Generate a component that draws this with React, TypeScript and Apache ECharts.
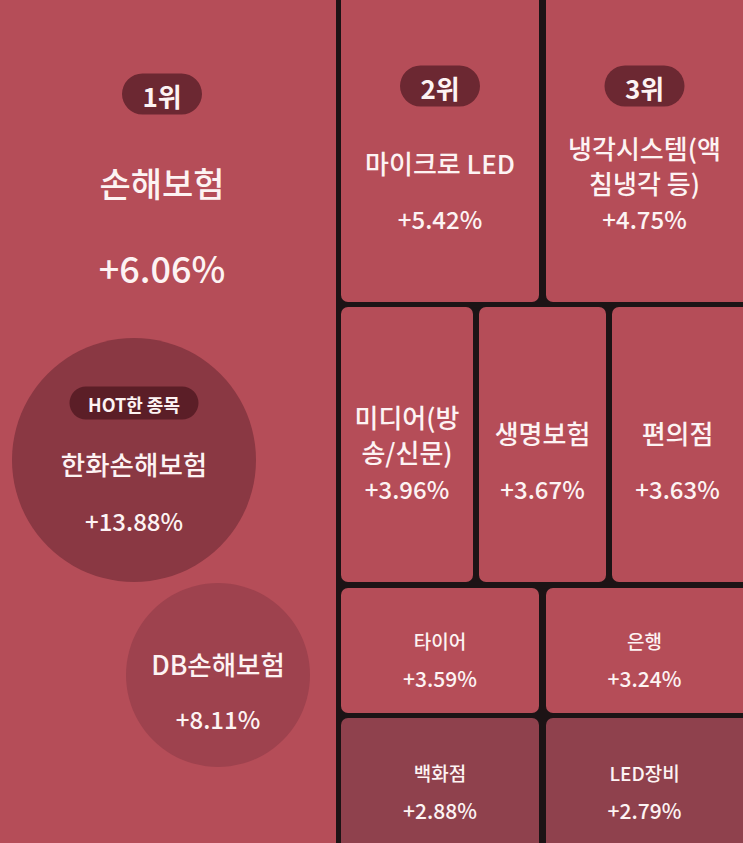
import React, { useEffect, useRef } from "react";
import * as echarts from "echarts";

// ---- data ----
const sectorNames = [
  "손해보험",
  "마이크로 LED",
  "냉각시스템(액\n침냉각 등)",
  "미디어(방\n송/신문)",
  "생명보험",
  "편의점",
  "타이어",
  "은행",
  "백화점",
  "LED장비",
];
const sectorChanges = [6.06, 5.42, 4.75, 3.96, 3.67, 3.63, 3.59, 3.24, 2.88, 2.79];
const rankLabels = ["1위", "2위", "3위"];
const hotStockNames = ["한화손해보험", "DB손해보험"];
const hotStockChanges = [13.88, 8.11];
const hotBadgeText = "HOT한 종목";

// ---- layout (pixel frame of the page) ----
const VIEW_W = 743;
const VIEW_H = 843;
// [x0, y0, x1, y1, badgeY, nameY, valueY, nameSize, valueSize, lineHeight]
const tileLayout = [
  [-12, -12, 336, 860, 94, 182, 267, 34, 36, 40],
  [341, -12, 539, 302, 86, 162, 218, 26, 24, 35],
  [546, -12, 752, 302, 86, 165, 218, 26, 24, 35],
  [341, 307, 473, 582, 0, 434, 488, 26, 24, 35],
  [479, 307, 606, 582, 0, 432, 488, 26, 24, 35],
  [612, 307, 752, 582, 0, 432, 488, 26, 24, 35],
  [341, 588, 539, 713, 0, 640, 678, 19, 21, 24],
  [546, 588, 752, 713, 0, 640, 678, 19, 21, 24],
  [341, 718, 539, 860, 0, 772, 810, 19, 21, 24],
  [546, 718, 752, 860, 0, 772, 810, 19, 21, 24],
];
// [cx, cy, r, nameY, valueY, badgeY]
const bubbleLayout = [
  [134, 460, 122, 463, 520, 403],
  [218, 675, 92, 663, 718, 0],
];

const FONT = '"Noto Sans CJK KR", "Noto Sans", sans-serif';
const TEXT = "#fdf3f3";
const BG = "#1c1315";

const fmt = (v: number) => `+${v.toFixed(2)}%`;
const tileColor = (v: number) => (v >= 3 ? "#b54d58" : "#8f414d");
const bubbleColor = (v: number) => (v >= 10 ? "#8a3843" : "#9e424e");

export default function App() {
  const ref = useRef<HTMLDivElement>(null);
  useEffect(() => {
    if (!ref.current) return;
    document.body.style.margin = "0";
    document.body.style.background = BG;
    const chart = echarts.init(ref.current, null, { renderer: "svg" });

    const tileRender = (params: any, api: any) => {
      const i = params.dataIndex;
      const L = tileLayout[i];
      const p0 = api.coord([L[0], L[1]]);
      const p1 = api.coord([L[2], L[3]]);
      const visRight = api.coord([Math.min(L[2], VIEW_W), 0])[0];
      const cx = (p0[0] + visRight) / 2;
      const v = api.value(1);
      const children: any[] = [
        {
          type: "rect",
          shape: { x: p0[0], y: p0[1], width: p1[0] - p0[0], height: p1[1] - p0[1], r: 7 },
          style: { fill: tileColor(v) },
        },
      ];
      if (i < rankLabels.length) {
        const by = api.coord([0, L[4]])[1];
        children.push({
          type: "rect",
          shape: { x: cx - 40, y: by - 20.5, width: 80, height: 41, r: 20.5 },
          style: { fill: "#6c2832" },
        });
        children.push({
          type: "text",
          x: cx,
          y: by + 1,
          style: {
            text: rankLabels[i],
            fill: TEXT,
            fontSize: 26,
            fontWeight: "bold",
            fontFamily: FONT,
            align: "center",
            verticalAlign: "middle",
          },
        });
      }
      children.push({
        type: "text",
        x: cx,
        y: api.coord([0, L[5]])[1],
        style: {
          text: sectorNames[i],
          fill: TEXT,
          fontSize: L[7],
          fontWeight: 500,
          fontFamily: FONT,
          lineHeight: L[9],
          align: "center",
          verticalAlign: "middle",
        },
      });
      children.push({
        type: "text",
        x: cx,
        y: api.coord([0, L[6]])[1],
        style: {
          text: fmt(v),
          fill: TEXT,
          fontSize: L[8],
          fontWeight: 500,
          fontFamily: FONT,
          align: "center",
          verticalAlign: "middle",
        },
      });
      return { type: "group", children };
    };

    const bubbleRender = (params: any, api: any) => {
      const i = params.dataIndex;
      const B = bubbleLayout[i];
      const c = api.coord([B[0], B[1]]);
      const v = api.value(1);
      const children: any[] = [
        { type: "circle", shape: { cx: c[0], cy: c[1], r: B[2] }, style: { fill: bubbleColor(v) } },
      ];
      if (B[5]) {
        const by = api.coord([0, B[5]])[1];
        children.push({
          type: "rect",
          shape: { x: c[0] - 64.5, y: by - 16.5, width: 129, height: 33, r: 16.5 },
          style: { fill: "#5b1e27" },
        });
        children.push({
          type: "text",
          x: c[0],
          y: by + 1,
          style: {
            text: hotBadgeText,
            fill: TEXT,
            fontSize: 18,
            fontWeight: "bold",
            fontFamily: FONT,
            align: "center",
            verticalAlign: "middle",
          },
        });
      }
      children.push({
        type: "text",
        x: c[0],
        y: api.coord([0, B[3]])[1],
        style: {
          text: hotStockNames[i],
          fill: TEXT,
          fontSize: 26.5,
          fontWeight: 500,
          fontFamily: FONT,
          align: "center",
          verticalAlign: "middle",
        },
      });
      children.push({
        type: "text",
        x: c[0],
        y: api.coord([0, B[4]])[1],
        style: {
          text: fmt(v),
          fill: TEXT,
          fontSize: 24,
          fontWeight: 500,
          fontFamily: FONT,
          align: "center",
          verticalAlign: "middle",
        },
      });
      return { type: "group", children };
    };

    chart.setOption({
      animation: false,
      backgroundColor: BG,
      grid: { left: 0, right: 0, top: 0, bottom: 0 },
      xAxis: { type: "value", min: 0, max: VIEW_W, show: false },
      yAxis: { type: "value", min: 0, max: VIEW_H, inverse: true, show: false },
      tooltip: { show: false },
      series: [
        {
          type: "custom",
          name: "sectors",
          renderItem: tileRender,
          data: sectorChanges.map((v, i) => ({ name: sectorNames[i], value: [i, v] })),
          clip: false,
          silent: true,
        },
        {
          type: "custom",
          name: "hot stocks",
          renderItem: bubbleRender,
          data: hotStockChanges.map((v, i) => ({ name: hotStockNames[i], value: [i, v] })),
          clip: false,
          silent: true,
          z: 3,
        },
      ],
    });
    return () => chart.dispose();
  }, []);

  return <div ref={ref} style={{ width: VIEW_W, height: VIEW_H, background: BG }} />;
}
